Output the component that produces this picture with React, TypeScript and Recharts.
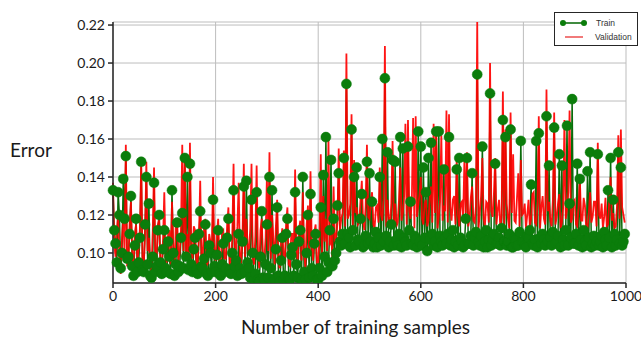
import {
  LineChart,
  Line,
  XAxis,
  YAxis,
  CartesianGrid,
  Legend,
} from 'recharts';

// error per training sample, every 2.5 samples (20 values = 50 samples per row)
const trainError = [
  0.133, 0.112, 0.105, 0.095, 0.132, 0.120, 0.092, 0.100, 0.139, 0.118, 0.151, 0.097, 0.098, 0.110, 0.130, 0.093, 0.088, 0.104, 0.118, 0.090,
  0.095, 0.108, 0.148, 0.091, 0.090, 0.115, 0.140, 0.094, 0.126, 0.088, 0.087, 0.098, 0.137, 0.090, 0.093, 0.112, 0.120, 0.095, 0.089, 0.102,
  0.112, 0.092, 0.090, 0.106, 0.098, 0.089, 0.133, 0.100, 0.088, 0.094, 0.116, 0.090, 0.093, 0.108, 0.121, 0.092, 0.150, 0.098, 0.140, 0.091,
  0.147, 0.094, 0.090, 0.102, 0.108, 0.091, 0.089, 0.110, 0.122, 0.093, 0.092, 0.097, 0.115, 0.089, 0.088, 0.104, 0.100, 0.090, 0.128, 0.093,
  0.090, 0.099, 0.112, 0.089, 0.088, 0.094, 0.105, 0.090, 0.092, 0.108, 0.118, 0.091, 0.089, 0.100, 0.133, 0.093, 0.096, 0.088, 0.110, 0.092,
  0.089, 0.106, 0.135, 0.090, 0.138, 0.095, 0.092, 0.087, 0.128, 0.100, 0.086, 0.089, 0.132, 0.086, 0.085, 0.098, 0.122, 0.087, 0.086, 0.094,
  0.115, 0.087, 0.140, 0.092, 0.133, 0.086, 0.086, 0.102, 0.124, 0.088, 0.085, 0.096, 0.108, 0.086, 0.088, 0.110, 0.118, 0.087, 0.086, 0.099,
  0.103, 0.088, 0.132, 0.094, 0.087, 0.106, 0.112, 0.086, 0.140, 0.090, 0.086, 0.100, 0.120, 0.087, 0.131, 0.092, 0.088, 0.105, 0.110, 0.086,
  0.086, 0.092, 0.124, 0.088, 0.141, 0.098, 0.161, 0.090, 0.095, 0.112, 0.149, 0.093, 0.118, 0.096, 0.100, 0.125, 0.142, 0.106, 0.104, 0.110,
  0.150, 0.105, 0.189, 0.110, 0.108, 0.103, 0.165, 0.112, 0.140, 0.104, 0.145, 0.107, 0.106, 0.118, 0.131, 0.103, 0.104, 0.109, 0.148, 0.105,
  0.142, 0.106, 0.127, 0.103, 0.105, 0.111, 0.103, 0.108, 0.140, 0.104, 0.160, 0.106, 0.192, 0.109, 0.153, 0.103, 0.106, 0.115, 0.149, 0.104,
  0.148, 0.107, 0.104, 0.110, 0.161, 0.103, 0.155, 0.108, 0.106, 0.104, 0.156, 0.112, 0.127, 0.105, 0.104, 0.109, 0.107, 0.103, 0.164, 0.106,
  0.156, 0.104, 0.145, 0.108, 0.132, 0.101, 0.150, 0.107, 0.158, 0.110, 0.104, 0.106, 0.164, 0.103, 0.164, 0.109, 0.106, 0.104, 0.144, 0.108,
  0.105, 0.110, 0.161, 0.104, 0.107, 0.112, 0.103, 0.106, 0.144, 0.104, 0.150, 0.108, 0.106, 0.103, 0.104, 0.118, 0.150, 0.105, 0.105, 0.109,
  0.142, 0.104, 0.108, 0.111, 0.194, 0.106, 0.104, 0.109, 0.156, 0.103, 0.106, 0.112, 0.103, 0.107, 0.184, 0.104, 0.107, 0.110, 0.147, 0.105,
  0.105, 0.108, 0.104, 0.113, 0.170, 0.106, 0.161, 0.104, 0.106, 0.110, 0.165, 0.103, 0.103, 0.108, 0.107, 0.104, 0.104, 0.111, 0.159, 0.106,
  0.106, 0.104, 0.103, 0.109, 0.108, 0.112, 0.136, 0.105, 0.104, 0.107, 0.159, 0.103, 0.163, 0.108, 0.105, 0.110, 0.107, 0.104, 0.172, 0.106,
  0.146, 0.108, 0.104, 0.111, 0.166, 0.105, 0.106, 0.109, 0.152, 0.103, 0.146, 0.107, 0.104, 0.112, 0.167, 0.104, 0.126, 0.108, 0.181, 0.105,
  0.105, 0.110, 0.147, 0.104, 0.139, 0.107, 0.103, 0.112, 0.106, 0.104, 0.143, 0.108, 0.153, 0.103, 0.105, 0.109, 0.104, 0.106, 0.152, 0.104,
  0.106, 0.109, 0.103, 0.111, 0.107, 0.104, 0.133, 0.108, 0.150, 0.103, 0.128, 0.110, 0.104, 0.107, 0.153, 0.105, 0.145, 0.104, 0.106, 0.110,
];

const validationError = [
  0.137, 0.104, 0.098, 0.112, 0.120, 0.095, 0.089, 0.108, 0.118, 0.100, 0.157, 0.093, 0.096, 0.116, 0.127, 0.099, 0.093, 0.110, 0.115, 0.095,
  0.102, 0.113, 0.148, 0.096, 0.094, 0.109, 0.148, 0.101, 0.108, 0.094, 0.090, 0.112, 0.145, 0.098, 0.097, 0.115, 0.118, 0.092, 0.093, 0.107,
  0.132, 0.098, 0.095, 0.110, 0.112, 0.094, 0.127, 0.103, 0.092, 0.116, 0.118, 0.096, 0.100, 0.112, 0.157, 0.101, 0.152, 0.097, 0.110, 0.094,
  0.158, 0.102, 0.097, 0.114, 0.112, 0.096, 0.094, 0.108, 0.138, 0.097, 0.099, 0.113, 0.118, 0.093, 0.095, 0.110, 0.106, 0.098, 0.140, 0.101,
  0.096, 0.109, 0.118, 0.095, 0.093, 0.111, 0.112, 0.097, 0.097, 0.115, 0.124, 0.094, 0.094, 0.108, 0.147, 0.099, 0.102, 0.114, 0.137, 0.096,
  0.095, 0.110, 0.147, 0.098, 0.118, 0.104, 0.099, 0.113, 0.147, 0.096, 0.094, 0.109, 0.146, 0.100, 0.092, 0.112, 0.118, 0.095, 0.097, 0.108,
  0.140, 0.101, 0.153, 0.097, 0.120, 0.108, 0.094, 0.114, 0.128, 0.095, 0.092, 0.107, 0.113, 0.098, 0.096, 0.116, 0.124, 0.094, 0.093, 0.110,
  0.110, 0.097, 0.144, 0.103, 0.095, 0.112, 0.117, 0.096, 0.132, 0.101, 0.092, 0.115, 0.125, 0.098, 0.143, 0.104, 0.096, 0.111, 0.115, 0.095,
  0.094, 0.109, 0.152, 0.099, 0.130, 0.106, 0.118, 0.101, 0.160, 0.104, 0.112, 0.098, 0.135, 0.107, 0.108, 0.116, 0.155, 0.112, 0.118, 0.121,
  0.154, 0.114, 0.205, 0.118, 0.120, 0.126, 0.173, 0.113, 0.149, 0.121, 0.124, 0.115, 0.116, 0.128, 0.138, 0.117, 0.112, 0.125, 0.157, 0.119,
  0.118, 0.127, 0.132, 0.115, 0.113, 0.124, 0.125, 0.116, 0.145, 0.120, 0.117, 0.129, 0.209, 0.114, 0.128, 0.119, 0.114, 0.126, 0.159, 0.116,
  0.126, 0.114, 0.116, 0.128, 0.145, 0.117, 0.121, 0.130, 0.168, 0.115, 0.170, 0.122, 0.118, 0.127, 0.171, 0.113, 0.172, 0.119, 0.125, 0.131,
  0.140, 0.118, 0.115, 0.126, 0.128, 0.114, 0.117, 0.129, 0.135, 0.116, 0.168, 0.121, 0.166, 0.113, 0.119, 0.127, 0.162, 0.117, 0.125, 0.122,
  0.175, 0.116, 0.173, 0.124, 0.117, 0.128, 0.130, 0.115, 0.150, 0.120, 0.114, 0.126, 0.127, 0.118, 0.149, 0.121, 0.153, 0.114, 0.118, 0.129,
  0.135, 0.117, 0.116, 0.125, 0.222, 0.113, 0.121, 0.130, 0.150, 0.118, 0.114, 0.127, 0.126, 0.116, 0.200, 0.122, 0.119, 0.131, 0.150, 0.115,
  0.123, 0.128, 0.113, 0.119, 0.185, 0.115, 0.165, 0.126, 0.118, 0.113, 0.174, 0.121, 0.152, 0.117, 0.116, 0.129, 0.142, 0.114, 0.149, 0.120,
  0.121, 0.126, 0.113, 0.120, 0.128, 0.114, 0.118, 0.131, 0.132, 0.116, 0.115, 0.125, 0.172, 0.113, 0.124, 0.130, 0.118, 0.115, 0.186, 0.122,
  0.127, 0.117, 0.114, 0.128, 0.174, 0.115, 0.119, 0.126, 0.131, 0.113, 0.116, 0.124, 0.170, 0.118, 0.123, 0.132, 0.175, 0.116, 0.118, 0.127,
  0.128, 0.115, 0.114, 0.124, 0.140, 0.117, 0.117, 0.129, 0.125, 0.112, 0.113, 0.121, 0.132, 0.116, 0.119, 0.127, 0.127, 0.114, 0.158, 0.120,
  0.118, 0.126, 0.113, 0.119, 0.129, 0.114, 0.115, 0.128, 0.140, 0.117, 0.121, 0.113, 0.114, 0.125, 0.162, 0.118, 0.165, 0.124, 0.120, 0.116,
];

const SAMPLE_STEP = 2.5;
const xTicks = [0, 200, 400, 600, 800, 1000];
const yTicks = [0.1, 0.12, 0.14, 0.16, 0.18, 0.2, 0.22];
const Y_DOMAIN: [number, number] = [0.0842, 0.2216];

const data = trainError.map((train, i) => ({
  samples: i * SAMPLE_STEP,
  train,
  validation: validationError[i],
}));

const FONT = 'Lato, "Open Sans", sans-serif';
const AXIS = '#262626';

const LegendBox = () => (
  <div
    style={{
      width: 84,
      height: 34,
      border: `1px solid ${AXIS}`,
      background: '#fff',
      fontFamily: '"Liberation Sans", Arial, sans-serif',
      fontSize: 8.5,
      color: '#333',
      boxSizing: 'border-box',
      paddingTop: 3,
    }}
  >
    <div style={{ display: 'flex', alignItems: 'center', height: 14 }}>
      <svg width={36} height={10} style={{ marginLeft: 2 }}>
        <line x1={6} y1={5} x2={27} y2={5} stroke="#006400" strokeWidth={1.5} />
        <circle cx={6} cy={5} r={3} fill="#0b7d0b" />
        <circle cx={27} cy={5} r={3} fill="#0b7d0b" />
      </svg>
      <span style={{ marginLeft: 3 }}>Train</span>
    </div>
    <div style={{ display: 'flex', alignItems: 'center', height: 14 }}>
      <svg width={36} height={10} style={{ marginLeft: 2 }}>
        <line x1={8} y1={5} x2={26} y2={5} stroke="#e82020" strokeWidth={1.2} />
      </svg>
      <span style={{ marginLeft: 2 }}>Validation</span>
    </div>
  </div>
);

const App = () => {
  return (
    <div style={{ width: 641, height: 338, background: '#fff' }}>
      <style>{'body { margin: 0; }'}</style>
      <LineChart
        width={641}
        height={338}
        data={data}
        margin={{ top: 22, right: 15, bottom: 0, left: 53 }}
      >
        <CartesianGrid stroke="#bdbdbd" strokeWidth={1} />
        <XAxis
          dataKey="samples"
          type="number"
          domain={[0, 1000]}
          ticks={xTicks}
          height={55}
          tickSize={5}
          tickMargin={3}
          stroke={AXIS}
          strokeWidth={1.5}
          tick={{ fontSize: 14, fill: '#1a1a1a', fontFamily: FONT }}
          label={{
            value: 'Number of training samples',
            position: 'insideBottom',
            offset: 4,
            dx: -14,
            fontSize: 19,
            fill: '#1a1a1a',
            fontFamily: FONT,
          }}
        />
        <XAxis
          xAxisId="top"
          orientation="top"
          dataKey="samples"
          type="number"
          domain={[0, 1000]}
          height={0}
          tick={false}
          tickLine={false}
          stroke={AXIS}
          strokeWidth={1.5}
        />
        <YAxis
          domain={Y_DOMAIN}
          allowDataOverflow
          ticks={yTicks}
          width={60}
          tickSize={5}
          tickMargin={3}
          stroke={AXIS}
          strokeWidth={1.5}
          tickFormatter={(v: number) => v.toFixed(2)}
          tick={{ fontSize: 14, fill: '#1a1a1a', fontFamily: FONT }}
          label={{
            value: 'Error',
            position: 'insideLeft',
            offset: -43,
            dy: -2,
            fontSize: 19,
            fill: '#1a1a1a',
            fontFamily: FONT,
          }}
        />
        <YAxis
          yAxisId="right"
          orientation="right"
          domain={Y_DOMAIN}
          width={0}
          tick={false}
          tickLine={false}
          stroke={AXIS}
          strokeWidth={1.5}
        />
        <Line
          dataKey="train"
          name="Train"
          stroke="#0a6a0a"
          strokeWidth={1.5}
          dot={{ r: 5, fill: '#0b7d0b', stroke: '#0b7d0b', strokeWidth: 0.5 }}
          activeDot={false}
          isAnimationActive={false}
        />
        <Line
          dataKey="validation"
          name="Validation"
          stroke="#ff0000"
          strokeOpacity={0.92}
          strokeWidth={1.8}
          dot={false}
          activeDot={false}
          isAnimationActive={false}
        />
        <Legend
          layout="vertical"
          align="center"
          verticalAlign="middle"
          wrapperStyle={{ top: 12, left: 554, width: 86 }}
          content={() => <LegendBox />}
        />
      </LineChart>
    </div>
  );
};

export default App;
